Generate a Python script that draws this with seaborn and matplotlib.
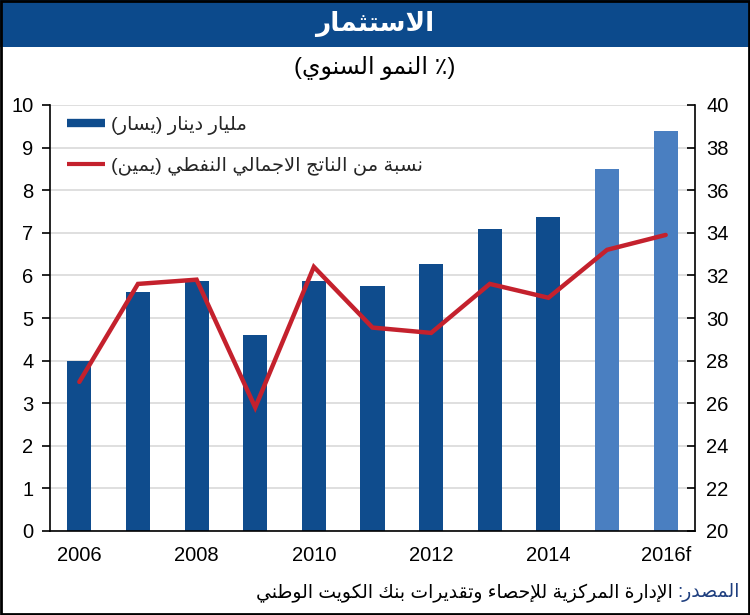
import numpy as np
import pandas as pd
import matplotlib
matplotlib.use("Agg")
import matplotlib.pyplot as plt
from matplotlib.lines import Line2D
from matplotlib.patches import Rectangle
import seaborn as sns

# ---------------- data ----------------
years = ['2006', '2007', '2008', '2009', '2010', '2011', '2012', '2013', '2014', '2015', '2016f']
year_labels = ['2006', '2008', '2010', '2012', '2014', '2016f']
investment_kd_bn = [4.0, 5.6, 5.86, 4.6, 5.86, 5.76, 6.26, 7.08, 7.36, 8.5, 9.4]
share_non_oil_gdp = [27.0, 31.6, 31.8, 25.8, 32.4, 29.55, 29.3, 31.6, 30.95, 33.2, 33.9]
is_forecast = [False] * 9 + [True] * 2

title_txt = 'الاستثمار'
subtitle_txt = '(٪ النمو السنوي)'
legend_bar_txt = 'مليار دينار (يسار)'
legend_line_txt = 'نسبة من الناتج الاجمالي النفطي (يمين)'
source_head = 'المصدر:'
source_body = 'الإدارة المركزية للإحصاء وتقديرات بنك الكويت الوطني'

# ---------------- Arabic shaping (presentation forms, visual order) ----------------
DUAL = {'ئ': 0xFE89, 'ب': 0xFE8F, 'ت': 0xFE95, 'ث': 0xFE99, 'ج': 0xFE9D, 'ح': 0xFEA1,
        'خ': 0xFEA5, 'س': 0xFEB1, 'ش': 0xFEB5, 'ص': 0xFEB9, 'ض': 0xFEBD, 'ط': 0xFEC1,
        'ظ': 0xFEC5, 'ع': 0xFEC9, 'غ': 0xFECD, 'ف': 0xFED1, 'ق': 0xFED5, 'ك': 0xFED9,
        'ل': 0xFEDD, 'م': 0xFEE1, 'ن': 0xFEE5, 'ه': 0xFEE9, 'ي': 0xFEF1}
RIGHT = {'آ': 0xFE81, 'أ': 0xFE83, 'ؤ': 0xFE85, 'إ': 0xFE87, 'ا': 0xFE8D, 'ة': 0xFE93,
         'د': 0xFEA9, 'ذ': 0xFEAB, 'ر': 0xFEAD, 'ز': 0xFEAF, 'و': 0xFEED, 'ى': 0xFEEF}
NONJ = {'ء': 0xFE80}
LAMALEF = {'آ': 0xFEF5, 'أ': 0xFEF7, 'إ': 0xFEF9, 'ا': 0xFEFB}
MIRROR = {'(': ')', ')': '('}


def shape(s):
    units = []
    i = 0
    while i < len(s):
        c = s[i]
        if c == 'ل' and i + 1 < len(s) and s[i + 1] in LAMALEF:
            units.append(('LA', 'R', LAMALEF[s[i + 1]]))
            i += 2
            continue
        if c in DUAL:
            units.append((c, 'D', DUAL[c]))
        elif c in RIGHT:
            units.append((c, 'R', RIGHT[c]))
        elif c in NONJ:
            units.append((c, 'U', NONJ[c]))
        else:
            units.append((c, None, None))
        i += 1
    out = []
    for k, (c, kind, base) in enumerate(units):
        if kind is None:
            out.append(c)
            continue
        if kind == 'U':
            out.append(chr(base))
            continue
        prev = units[k - 1] if k > 0 else None
        nxt = units[k + 1] if k + 1 < len(units) else None
        jp = prev is not None and prev[1] == 'D'
        jn = kind == 'D' and nxt is not None and nxt[1] in ('D', 'R')
        if kind == 'R':
            out.append(chr(base + 1 if jp else base))
        else:
            off = 3 if (jp and jn) else 1 if jp else 2 if jn else 0
            out.append(chr(base + off))
    return ''.join(out)


def ar(s):
    t = shape(s)
    return ''.join(MIRROR.get(ch, ch) for ch in reversed(t))


# ---------------- style ----------------
sns.set_theme(style="white")
plt.rcParams['font.family'] = ['Liberation Sans', 'DejaVu Sans']
plt.rcParams['axes.unicode_minus'] = False

DARK = '#0F4C8D'
LIGHT = '#4A7FC1'
RED = '#C4212D'
HEAD = '#0C4A8C'
TICK_FS = 14.5

W, H = 750, 615
fig = plt.figure(figsize=(7.5, 6.15), dpi=100)

# header bar
fig.patches.append(Rectangle((0, 1 - 47 / H), 1, 47 / H, transform=fig.transFigure,
                             facecolor=HEAD, edgecolor='none', zorder=0))
fig.text(0.5, 1 - 24 / H, ar(title_txt), ha='center', va='center', color='white',
         fontsize=19, fontweight='bold')
fig.text(0.5, 1 - 68 / H, ar(subtitle_txt), ha='center', va='center', color='black',
         fontsize=17)

# axes
ax = fig.add_axes([50 / W, 1 - 531 / H, (695 - 50) / W, (531 - 105) / H])
df = pd.DataFrame({'year': years, 'value': investment_kd_bn})
palette = {y: (LIGHT if f else DARK) for y, f in zip(years, is_forecast)}
sns.barplot(data=df, x='year', y='value', hue='year', palette=palette, legend=False,
            width=0.41, ax=ax, saturation=1, edgecolor='none')

ax.set_xlim(-0.5, len(years) - 0.5)
ax.set_ylim(0, 10)
ax.set_yticks(range(0, 11))
ax.set_xlabel('')
ax.set_ylabel('')
ax.grid(axis='y', color='#D9D9D9', linewidth=1.2)
ax.grid(axis='x', visible=False)
ax.set_axisbelow(True)

ax.set_xticks([years.index(y) for y in year_labels])
ax.set_xticklabels(year_labels)
ax.set_xticks(np.arange(-0.5, len(years)), minor=True)
ax.tick_params(axis='x', which='major', length=0, pad=11, labelsize=TICK_FS, colors='black')
ax.tick_params(axis='x', which='minor', length=5, width=1.2, direction='out', color='black')
ax.tick_params(axis='y', which='major', length=6, width=1.2, direction='out', pad=6,
               labelsize=TICK_FS, left=True, colors='black')

for s in ['top', 'right']:
    ax.spines[s].set_visible(False)
for s in ['left', 'bottom']:
    ax.spines[s].set_color('black')
    ax.spines[s].set_linewidth(1.2)

ax2 = ax.twinx()
sns.lineplot(x=np.arange(len(years)), y=share_non_oil_gdp, ax=ax2, color=RED,
             linewidth=3.2, solid_joinstyle='miter')
ax2.set_ylim(20, 40)
ax2.set_yticks(range(20, 41, 2))
ax2.set_xlim(-0.5, len(years) - 0.5)
ax2.tick_params(axis='y', which='major', length=6, width=1.2, direction='in', pad=8,
                labelsize=TICK_FS, right=True, colors='black')
ax2.grid(False)
for s in ['top', 'left', 'bottom']:
    ax2.spines[s].set_visible(False)
ax2.spines['right'].set_color('black')
ax2.spines['right'].set_linewidth(1.2)
ax2.set_ylabel('')

handles = [Line2D([], [], color=DARK, linewidth=6, solid_capstyle='butt'),
           Line2D([], [], color=RED, linewidth=3, solid_capstyle='butt')]
ax2.legend(handles, [ar(legend_bar_txt), ar(legend_line_txt)], loc='upper left',
           bbox_to_anchor=(17 / 645, (531 - 116) / 426), frameon=False, fontsize=14,
           borderpad=0, borderaxespad=0,
           handlelength=1.95, handletextpad=0.3, labelspacing=1.1)

# source line
fig.canvas.draw()
r = fig.canvas.get_renderer()
t1 = fig.text(740 / W, 1 - 593 / H, ar(source_head), ha='right', va='center',
              color='#1F3F7F', fontsize=13.5)
bb = t1.get_window_extent(renderer=r)
fig.text((bb.x0 - 5) / W, 1 - 593 / H, ar(source_body), ha='right', va='center',
         color='black', fontsize=13.5)

# outer border
fig.patches.append(Rectangle((0.001, 0.001), 0.998, 0.998, transform=fig.transFigure,
                             facecolor='none', edgecolor='black', linewidth=2, zorder=10))

fig.savefig('out.png', dpi=100)
